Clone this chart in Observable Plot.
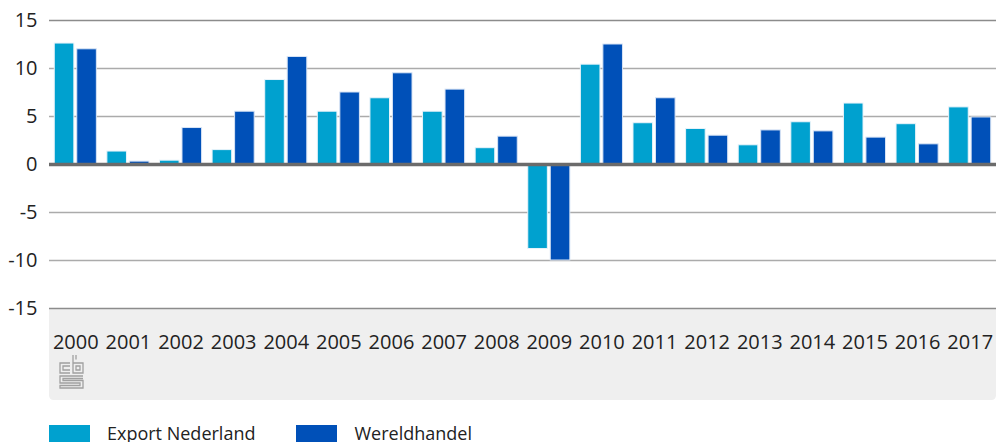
<!DOCTYPE html>
<html>
<head>
<meta charset="utf-8">
<script src="https://cdn.jsdelivr.net/npm/d3@7"></script>
<script src="https://cdn.jsdelivr.net/npm/@observablehq/plot@0.6"></script>
<style>
  body { margin: 0; background: #fff; font-family: "Open Sans", sans-serif; }
  #chart svg { display: block; }
  #legend { display: flex; align-items: center; margin-top: 20px; margin-left: 49px; font-size: 18px; line-height: 17px; height: 17px; color: #222; }
  .item { display: flex; align-items: center; margin-right: 41px; }
  .sw { width: 41px; height: 17px; margin-right: 17px; }
</style>
</head>
<body>
<div id="chart"></div>
<div id="legend"></div>
<script>
const years = ["2000","2001","2002","2003","2004","2005","2006","2007","2008","2009","2010","2011","2012","2013","2014","2015","2016","2017"];
const series = ["Export Nederland", "Wereldhandel"];
const exportNederland = [12.6, 1.35, 0.4, 1.5, 8.8, 5.5, 6.9, 5.5, 1.7, -8.8, 10.4, 4.3, 3.7, 2.0, 4.4, 6.35, 4.2, 5.95];
const wereldhandel   = [12.0, 0.3, 3.8, 5.5, 11.2, 7.5, 9.5, 7.8, 2.9, -10.0, 12.5, 6.9, 3.0, 3.55, 3.45, 2.8, 2.1, 4.9];
const yTicks = [-15, -10, -5, 0, 5, 10, 15];
const colors = ["#00a1cf", "#0050b8"];

const data = years.flatMap((y, i) => [
  {year: y, series: series[0], value: exportNederland[i]},
  {year: y, series: series[1], value: wereldhandel[i]}
]);

const fs = 20;

function bottomPanel(index, scales, values, dims) {
  const ns = "http://www.w3.org/2000/svg";
  const g = document.createElementNS(ns, "g");
  const x0 = dims.marginLeft, x1 = dims.width - dims.marginRight;
  const y0 = dims.height - dims.marginBottom, y1 = dims.height - 5;
  const r = 5;
  const p = document.createElementNS(ns, "path");
  p.setAttribute("d", `M${x0},${y0}H${x1}V${y1 - r}Q${x1},${y1} ${x1 - r},${y1}H${x0 + r}Q${x0},${y1} ${x0},${y1 - r}Z`);
  p.setAttribute("fill", "#efefef");
  g.appendChild(p);
  // cbs logo
  const lg = document.createElementNS(ns, "path");
  const lx = x0 + 11, ly = y0 + 47;
  lg.setAttribute("transform", `translate(${lx},${ly})`);
  lg.setAttribute("d",
    "M10,8H0V18H10M10,11H3V15H10" +
    "M13,0V18H23V8H13M16,0V4.5M16,11H20V15H16Z" +
    "M23,21H0V28H20V30.5H0V33H23V25.5H3V23.5H23"
  );
  lg.setAttribute("fill", "none");
  lg.setAttribute("stroke", "#a0a0a0");
  lg.setAttribute("stroke-width", "1.3");
  g.appendChild(lg);
  return g;
}

const chart = Plot.plot({
  width: 996,
  height: 405,
  marginLeft: 49,
  marginRight: 0,
  marginTop: 20,
  marginBottom: 97,
  style: {fontFamily: "Open Sans, sans-serif", fontSize: fs + "px", color: "#222"},
  x: {domain: years, paddingInner: 0.2, paddingOuter: 0.1, round: false, label: null},
  y: {domain: [-15, 15], label: null},
  color: {domain: series, range: colors},
  marks: [
    bottomPanel,
    Plot.ruleY([-10, -5, 5, 10], {stroke: "#ababab", strokeWidth: 1.5, strokeOpacity: 1}),
    Plot.ruleY([15, -15], {stroke: "#8c8c8c", strokeWidth: 1.5, strokeOpacity: 1}),
    Plot.barY(data.filter(d => d.series === series[0]), {x: "year", y: "value", fill: "series", insetRight: 22.5, stroke: "#e8f3fa", strokeWidth: 1}),
    Plot.barY(data.filter(d => d.series === series[1]), {x: "year", y: "value", fill: "series", insetLeft: 22.5, stroke: "#d8e4f5", strokeWidth: 1}),
    Plot.ruleY([0], {stroke: "#6b6b6b", strokeWidth: 3.5}),
    Plot.axisY({ticks: yTicks, tickSize: 0, tickPadding: 12, tickFormat: d => String(d), fontSize: fs, fill: "#222"}),
    Plot.axisX({tickSize: 0, tickPadding: 26, fontSize: fs, fill: "#222"})
  ]
});
document.getElementById("chart").appendChild(chart);

const legend = document.getElementById("legend");
series.forEach((s, i) => {
  const item = document.createElement("div");
  item.className = "item";
  const sw = document.createElement("div");
  sw.className = "sw";
  sw.style.background = colors[i];
  const t = document.createElement("span");
  t.textContent = s;
  item.appendChild(sw);
  item.appendChild(t);
  legend.appendChild(item);
});
</script>
</body>
</html>
